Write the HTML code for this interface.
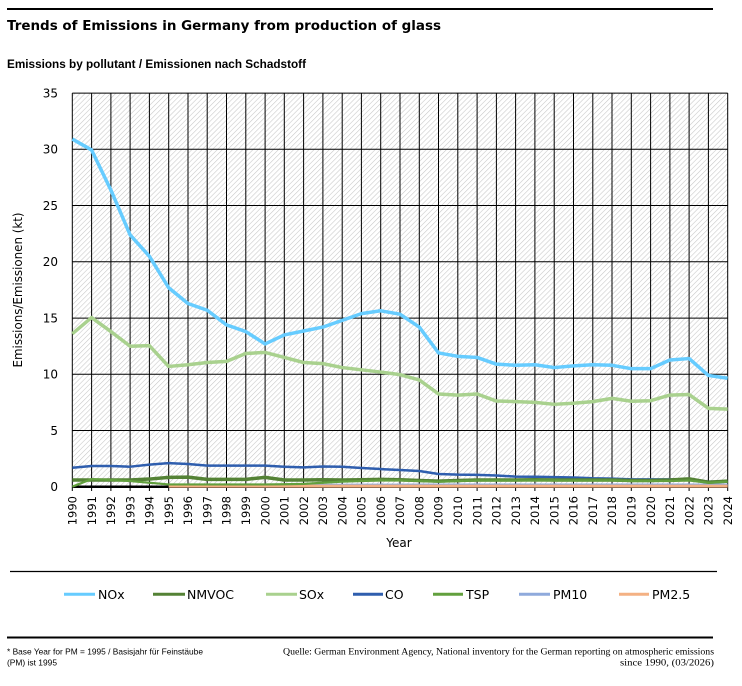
<!DOCTYPE html>
<html><head><meta charset="utf-8"><style>
html,body{margin:0;padding:0;background:#fff;}
svg{display:block;}
</style></head><body>
<svg width="742" height="686" viewBox="0 0 742 686" xmlns="http://www.w3.org/2000/svg">
<defs>
<pattern id="hatch" width="3.6" height="3.6" patternUnits="userSpaceOnUse" patternTransform="rotate(45)">
<rect width="3.6" height="3.6" fill="#ffffff"/>
<line x1="0" y1="0" x2="0" y2="3.6" stroke="#c6c6c6" stroke-width="1.1"/>
</pattern>
</defs>
<rect width="742" height="686" fill="#fff"/>
<!-- top rule -->
<rect x="7" y="8" width="706" height="2" fill="#000"/>
<text x="7" y="30" font-family="DejaVu Sans, sans-serif" font-weight="bold" font-size="13" textLength="434" lengthAdjust="spacingAndGlyphs" fill="#000">Trends of Emissions in Germany from production of glass</text>
<text x="7" y="68" font-family="Liberation Sans, sans-serif" font-weight="bold" font-size="11.5" textLength="299" lengthAdjust="spacingAndGlyphs" fill="#000">Emissions by pollutant / Emissionen nach Schadstoff</text>

<!-- plot background -->
<rect x="72.3" y="93.1" width="655.4" height="393.6" fill="url(#hatch)"/>

<!-- horizontal grid -->
<g stroke="#000" stroke-width="1">
<line x1="72.3" y1="93.1" x2="727.7" y2="93.1"/>
<line x1="72.3" y1="149.3" x2="727.7" y2="149.3"/>
<line x1="72.3" y1="205.5" x2="727.7" y2="205.5"/>
<line x1="72.3" y1="261.7" x2="727.7" y2="261.7"/>
<line x1="72.3" y1="318.1" x2="727.7" y2="318.1"/>
<line x1="72.3" y1="374.3" x2="727.7" y2="374.3"/>
<line x1="72.3" y1="430.5" x2="727.7" y2="430.5"/>
</g>
<!-- vertical grid -->
<g stroke="#000" stroke-width="1">
<line x1="72.3" y1="93.1" x2="72.3" y2="491"/>
<line x1="91.6" y1="93.1" x2="91.6" y2="491"/>
<line x1="110.9" y1="93.1" x2="110.9" y2="491"/>
<line x1="130.1" y1="93.1" x2="130.1" y2="491"/>
<line x1="149.4" y1="93.1" x2="149.4" y2="491"/>
<line x1="168.7" y1="93.1" x2="168.7" y2="491"/>
<line x1="188.0" y1="93.1" x2="188.0" y2="491"/>
<line x1="207.2" y1="93.1" x2="207.2" y2="491"/>
<line x1="226.5" y1="93.1" x2="226.5" y2="491"/>
<line x1="245.8" y1="93.1" x2="245.8" y2="491"/>
<line x1="265.1" y1="93.1" x2="265.1" y2="491"/>
<line x1="284.3" y1="93.1" x2="284.3" y2="491"/>
<line x1="303.6" y1="93.1" x2="303.6" y2="491"/>
<line x1="322.9" y1="93.1" x2="322.9" y2="491"/>
<line x1="342.2" y1="93.1" x2="342.2" y2="491"/>
<line x1="361.4" y1="93.1" x2="361.4" y2="491"/>
<line x1="380.7" y1="93.1" x2="380.7" y2="491"/>
<line x1="400.0" y1="93.1" x2="400.0" y2="491"/>
<line x1="419.3" y1="93.1" x2="419.3" y2="491"/>
<line x1="438.5" y1="93.1" x2="438.5" y2="491"/>
<line x1="457.8" y1="93.1" x2="457.8" y2="491"/>
<line x1="477.1" y1="93.1" x2="477.1" y2="491"/>
<line x1="496.4" y1="93.1" x2="496.4" y2="491"/>
<line x1="515.6" y1="93.1" x2="515.6" y2="491"/>
<line x1="534.9" y1="93.1" x2="534.9" y2="491"/>
<line x1="554.2" y1="93.1" x2="554.2" y2="491"/>
<line x1="573.5" y1="93.1" x2="573.5" y2="491"/>
<line x1="592.8" y1="93.1" x2="592.8" y2="491"/>
<line x1="612.0" y1="93.1" x2="612.0" y2="491"/>
<line x1="631.3" y1="93.1" x2="631.3" y2="491"/>
<line x1="650.6" y1="93.1" x2="650.6" y2="491"/>
<line x1="669.9" y1="93.1" x2="669.9" y2="491"/>
<line x1="689.1" y1="93.1" x2="689.1" y2="491"/>
<line x1="708.4" y1="93.1" x2="708.4" y2="491"/>
<line x1="727.7" y1="93.1" x2="727.7" y2="491"/>
</g>
<!-- x axis -->
<line x1="72.3" y1="486.7" x2="727.7" y2="486.7" stroke="#000" stroke-width="2.5"/>

<!-- series -->
<g transform="translate(72.3,486.7) scale(19.276,-11.24)" fill="none" stroke-linejoin="round" stroke-linecap="butt">
<polyline vector-effect="non-scaling-stroke" stroke="#8FAADC" stroke-width="2" points="5,0.15 10,0.15 15,0.18 20,0.2 25,0.2 30,0.2 34,0.2"/>
<polyline vector-effect="non-scaling-stroke" stroke="#F4B183" stroke-width="3" points="5,0.05 34,0.05"/>
<polyline vector-effect="non-scaling-stroke" stroke="#2F5EAE" stroke-width="2.5" points="0,1.69 1,1.84 2,1.84 3,1.78 4,1.96 5,2.1 6,2.02 7,1.87 8,1.87 9,1.87 10,1.87 11,1.78 12,1.72 13,1.8 14,1.78 15,1.66 16,1.57 17,1.49 18,1.4 19,1.13 20,1.07 21,1.05 22,1.0 23,0.9 24,0.88 25,0.85 26,0.82 27,0.75 28,0.72 29,0.65 30,0.65 31,0.65 32,0.65 33,0.45 34,0.45"/>
<polyline vector-effect="non-scaling-stroke" stroke="#548235" stroke-width="3.5" points="0,0.6 1,0.6 2,0.6 3,0.6 4,0.68 5,0.83 6,0.85 7,0.65 8,0.65 9,0.65 10,0.83 11,0.6 12,0.6 13,0.62 14,0.6 15,0.62 16,0.65 17,0.62 18,0.55 19,0.5 20,0.55 21,0.6 22,0.6 23,0.6 24,0.62 25,0.6 26,0.6 27,0.6 28,0.6 29,0.55 30,0.55 31,0.6 32,0.7 33,0.4 34,0.5"/>
<polyline vector-effect="non-scaling-stroke" stroke="#62A03E" stroke-width="2.2" points="0,0 1,0.68 2,0.6 3,0.5 4,0.35 5,0.2 6,0.2 7,0.2 8,0.2 9,0.2 10,0.2 11,0.22 12,0.25 13,0.35 14,0.45 15,0.5 16,0.55 17,0.55 18,0.5 19,0.45 20,0.5 21,0.55 22,0.55 23,0.55 24,0.55 25,0.55 26,0.55 27,0.55 28,0.55 29,0.5 30,0.5 31,0.5 32,0.55 33,0.35 34,0.45"/>
<polyline vector-effect="non-scaling-stroke" stroke="#A9D18E" stroke-width="3.5" points="0,13.6 1,15.05 2,13.8 3,12.5 4,12.55 5,10.7 6,10.85 7,11.05 8,11.15 9,11.85 10,11.95 11,11.5 12,11.05 13,10.95 14,10.6 15,10.4 16,10.2 17,9.97 18,9.5 19,8.25 20,8.15 21,8.25 22,7.62 23,7.57 24,7.5 25,7.33 26,7.42 27,7.57 28,7.86 29,7.6 30,7.65 31,8.15 32,8.2 33,6.97 34,6.9"/>
<polyline vector-effect="non-scaling-stroke" stroke="#66CCFF" stroke-width="3.5" points="0,30.93 1,29.96 2,26.4 3,22.4 4,20.5 5,17.7 6,16.3 7,15.7 8,14.4 9,13.8 10,12.7 11,13.5 12,13.85 13,14.2 14,14.8 15,15.4 16,15.65 17,15.35 18,14.2 19,11.9 20,11.6 21,11.5 22,10.9 23,10.8 24,10.85 25,10.6 26,10.75 27,10.85 28,10.8 29,10.5 30,10.5 31,11.27 32,11.4 33,9.9 34,9.65"/>
</g>

<!-- y tick labels -->
<g font-family="DejaVu Sans, sans-serif" font-size="12" fill="#000" text-anchor="end">
<text x="58" y="97.5">35</text>
<text x="58" y="153.7">30</text>
<text x="58" y="209.9">25</text>
<text x="58" y="266.1">20</text>
<text x="58" y="322.5">15</text>
<text x="58" y="378.7">10</text>
<text x="58" y="434.9">5</text>
<text x="58" y="491.1">0</text>
</g>

<!-- x tick labels -->
<g font-family="DejaVu Sans, sans-serif" font-size="11.5" fill="#000" text-anchor="end">
<text transform="translate(76.5,496) rotate(-90)">1990</text>
<text transform="translate(95.8,496) rotate(-90)">1991</text>
<text transform="translate(115.1,496) rotate(-90)">1992</text>
<text transform="translate(134.3,496) rotate(-90)">1993</text>
<text transform="translate(153.6,496) rotate(-90)">1994</text>
<text transform="translate(172.9,496) rotate(-90)">1995</text>
<text transform="translate(192.2,496) rotate(-90)">1996</text>
<text transform="translate(211.4,496) rotate(-90)">1997</text>
<text transform="translate(230.7,496) rotate(-90)">1998</text>
<text transform="translate(250.0,496) rotate(-90)">1999</text>
<text transform="translate(269.3,496) rotate(-90)">2000</text>
<text transform="translate(288.5,496) rotate(-90)">2001</text>
<text transform="translate(307.8,496) rotate(-90)">2002</text>
<text transform="translate(327.1,496) rotate(-90)">2003</text>
<text transform="translate(346.4,496) rotate(-90)">2004</text>
<text transform="translate(365.6,496) rotate(-90)">2005</text>
<text transform="translate(384.9,496) rotate(-90)">2006</text>
<text transform="translate(404.2,496) rotate(-90)">2007</text>
<text transform="translate(423.5,496) rotate(-90)">2008</text>
<text transform="translate(442.7,496) rotate(-90)">2009</text>
<text transform="translate(462.0,496) rotate(-90)">2010</text>
<text transform="translate(481.3,496) rotate(-90)">2011</text>
<text transform="translate(500.6,496) rotate(-90)">2012</text>
<text transform="translate(519.8,496) rotate(-90)">2013</text>
<text transform="translate(539.1,496) rotate(-90)">2014</text>
<text transform="translate(558.4,496) rotate(-90)">2015</text>
<text transform="translate(577.7,496) rotate(-90)">2016</text>
<text transform="translate(597.0,496) rotate(-90)">2017</text>
<text transform="translate(616.2,496) rotate(-90)">2018</text>
<text transform="translate(635.5,496) rotate(-90)">2019</text>
<text transform="translate(654.8,496) rotate(-90)">2020</text>
<text transform="translate(674.1,496) rotate(-90)">2021</text>
<text transform="translate(693.3,496) rotate(-90)">2022</text>
<text transform="translate(712.6,496) rotate(-90)">2023</text>
<text transform="translate(731.9,496) rotate(-90)">2024</text>
</g>

<!-- axis titles -->
<text x="399" y="547" font-family="DejaVu Sans, sans-serif" font-size="12" text-anchor="middle" fill="#000">Year</text>
<text transform="translate(22,290) rotate(-90)" font-family="DejaVu Sans, sans-serif" font-size="12" text-anchor="middle" textLength="155" lengthAdjust="spacingAndGlyphs" fill="#000">Emissions/Emissionen (kt)</text>

<!-- legend -->
<line x1="10" y1="571.5" x2="717" y2="571.5" stroke="#000" stroke-width="1.2"/>
<g stroke-width="3">
<line x1="64" y1="594.3" x2="95" y2="594.3" stroke="#66CCFF"/>
<line x1="153" y1="594.3" x2="185" y2="594.3" stroke="#548235"/>
<line x1="266" y1="594.3" x2="297" y2="594.3" stroke="#A9D18E"/>
<line x1="353" y1="594.3" x2="383" y2="594.3" stroke="#2F5EAE"/>
<line x1="433" y1="594.3" x2="463" y2="594.3" stroke="#62A03E"/>
<line x1="519" y1="594.3" x2="550" y2="594.3" stroke="#8FAADC"/>
<line x1="619" y1="594.3" x2="649" y2="594.3" stroke="#F4B183"/>
</g>
<g font-family="DejaVu Sans, sans-serif" font-size="12.5" fill="#000">
<text x="98" y="599">NOx</text>
<text x="187" y="599">NMVOC</text>
<text x="299" y="599">SOx</text>
<text x="385" y="599">CO</text>
<text x="466" y="599">TSP</text>
<text x="553" y="599">PM10</text>
<text x="652" y="599">PM2.5</text>
</g>

<!-- footer -->
<rect x="7" y="636.5" width="706" height="2" fill="#000"/>
<g font-family="Liberation Sans, sans-serif" font-size="8.5" fill="#000">
<text x="7" y="654.5" textLength="196" lengthAdjust="spacingAndGlyphs">* Base Year for PM = 1995 / Basisjahr für Feinstäube</text>
<text x="7" y="665.5" textLength="50" lengthAdjust="spacingAndGlyphs">(PM) ist 1995</text>
</g>
<g font-family="Liberation Serif, serif" font-size="9" fill="#000" text-anchor="end">
<text x="714" y="654.5" textLength="431" lengthAdjust="spacingAndGlyphs">Quelle: German Environment Agency, National inventory for the German reporting on atmospheric emissions</text>
<text x="714" y="665.5" textLength="94" lengthAdjust="spacingAndGlyphs">since 1990, (03/2026)</text>
</g>
</svg>
</body></html>
